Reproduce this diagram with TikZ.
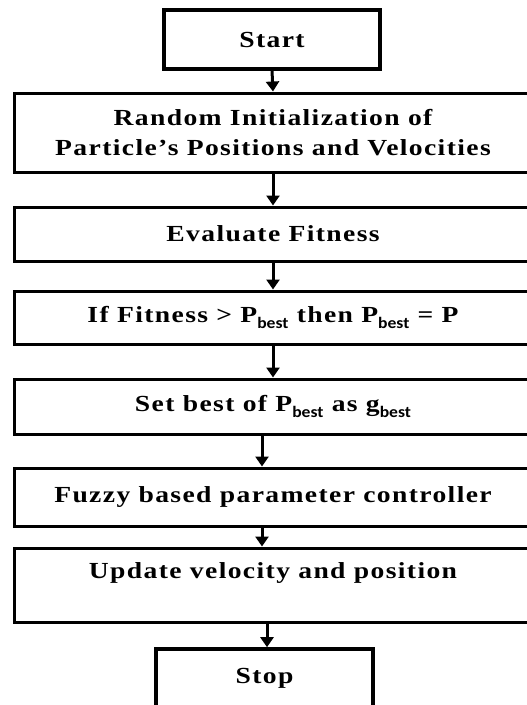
\documentclass[tikz,border=0pt]{standalone}
\usepackage{fontspec}
\usetikzlibrary{arrows.meta}
\newfontfamily\boxfont{Liberation Serif}[FakeStretch=1.2,LetterSpace=6]
\newfontfamily\subfont{Carlito}[FakeStretch=1.1]
\newcommand{\sbest}{\raisebox{-0.28em}{\subfont\bfseries\fontsize{16}{16}\selectfont best}}
\tikzset{
  box/.style={draw=black, line width=3pt, fill=white, rectangle, align=center,
    font=\boxfont\bfseries\fontsize{23}{30}\selectfont, text=black,
    minimum width=518pt, inner sep=0pt},
  termbox/.style={box, line width=3.6pt, minimum width=216pt, minimum height=59pt},
  flow/.style={line width=3pt, -{Triangle[width=13pt,length=10pt]}}
}
\begin{document}
\begin{tikzpicture}[x=1pt,y=-1pt]
\useasboundingbox (0,0) rectangle (527,705);
\fill[white] (0,0) rectangle (527,705);
\clip (0,0) rectangle (527,705);
\node[termbox] (start) at (272,39.5) {Start};
\node[box, minimum height=79pt] (init) at (273,132.5) {Random Initialization of\\Particle’s Positions and Velocities};
\node[box, minimum height=54pt] (eval) at (273,234) {Evaluate Fitness};
\node[box, minimum height=53pt] (pbest) at (273,317.5) {If Fitness > P\sbest{} then P\sbest{} = P};
\node[box, minimum height=55pt] (gbest) at (273,406.5) {Set best of P\sbest{} as g\sbest};
\node[box, minimum height=58pt] (fuzzy) at (273,497) {Fuzzy based parameter controller};
\node[box, minimum height=74pt] (update) at (273,585) {Update velocity and position\\[-10pt]\strut};
\node[termbox, minimum width=217pt] (stop) at (264.5,678.5) {Stop};
\draw[flow] (start.south) -- (init.north);
\draw[flow] (init.south) -- (eval.north);
\draw[flow] (eval.south) -- (pbest.north);
\draw[flow] (pbest.south) -- (gbest.north);
\draw[flow] ([xshift=-11pt]gbest.south) -- ([xshift=-11pt]fuzzy.north);
\draw[flow] ([xshift=-11pt]fuzzy.south) -- ([xshift=-11pt]update.north);
\draw[flow] ([xshift=-6pt]update.south) -- ([xshift=2.5pt]stop.north);
\end{tikzpicture}
\end{document}
